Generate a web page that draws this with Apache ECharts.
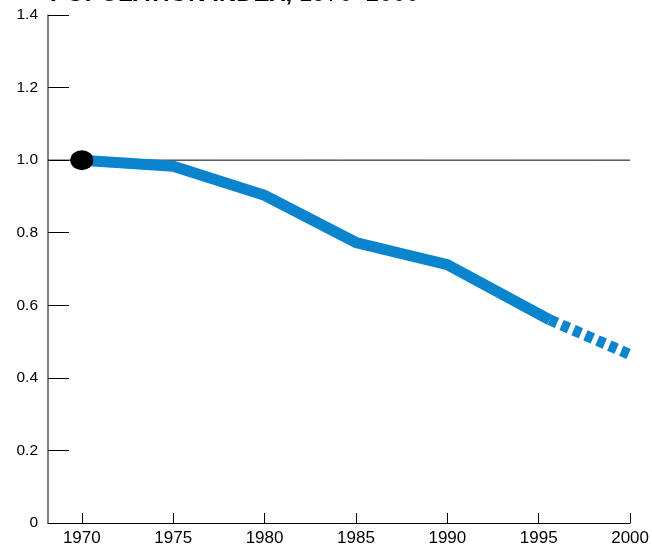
<!DOCTYPE html>
<html><head><meta charset="utf-8">
<script src="https://cdn.jsdelivr.net/npm/echarts@6/dist/echarts.min.js"></script>
<style>html,body{margin:0;padding:0;background:#fff}#c{width:652px;height:547px}</style>
</head><body><div id="c"></div>
<script>
const titleBold = 'POPULATION INDEX,';
const titleRest = ' 1970–2000';
const xTicks = [1970, 1975, 1980, 1985, 1990, 1995, 2000];
const yTicks = [0, 0.2, 0.4, 0.6, 0.8, 1.0, 1.2, 1.4];
const solidYears = [1970, 1975, 1980, 1985, 1990, 1995.6];
const solidValues = [1.0, 0.983, 0.903, 0.773, 0.712, 0.56];
const dashedYears = [1995.6, 2000];
const dashedValues = [0.56, 0.464];
const startYear = 1970, startValue = 1.0;
const refValue = 1.0;

const chart = echarts.init(document.getElementById('c'));
const font = 'Liberation Sans, Arial, Helvetica, sans-serif';
chart.setOption({
  animation: false,
  graphic: [{
    type: 'text', left: 50, top: -17.5,
    style: {
      text: '{b|' + titleBold + '}{r|' + titleRest + '}',
      rich: {
        b: { fontFamily: font, fontWeight: 'bold', fontSize: 24, fill: '#000' },
        r: { fontFamily: font, fontSize: 24, fill: '#000' }
      }
    }
  }],
  grid: { left: 48, right: 19, top: 15, bottom: 24, containLabel: false },
  xAxis: {
    type: 'value', min: 1968.15, max: 2000,
    splitLine: { show: false },
    axisLine: { lineStyle: { color: '#000', width: 1 } },
    axisTick: { inside: true, length: 10, customValues: xTicks, lineStyle: { color: '#000' } },
    axisLabel: { customValues: xTicks, color: '#000', fontFamily: font, fontSize: 17, margin: 7, formatter: v => String(v) }
  },
  yAxis: {
    type: 'value', min: 0, max: 1.4,
    splitLine: { show: false },
    axisLine: { show: true, lineStyle: { color: '#555', width: 1.5 } },
    axisTick: { inside: true, length: 21, customValues: yTicks, lineStyle: { color: '#000' } },
    axisLabel: { customValues: yTicks, color: '#000', fontFamily: font, fontSize: 15.5, margin: 10,
      formatter: v => v === 0 ? '0' : v.toFixed(1) }
  },
  series: [
    {
      type: 'line', data: [[1968.15, refValue], [2000, refValue]], symbol: 'none', silent: true,
      lineStyle: { color: '#000', width: 1 }, z: 1
    },
    {
      type: 'line', data: solidYears.map((y, i) => [y, solidValues[i]]), symbol: 'none',
      lineStyle: { color: '#0A84CC', width: 11, cap: 'butt', join: 'miter' }, z: 2
    },
    {
      type: 'line', data: dashedYears.map((y, i) => [y, dashedValues[i]]), symbol: 'none',
      lineStyle: { color: '#0A84CC', width: 11, type: [8, 5], cap: 'butt' }, z: 2
    },
    {
      type: 'scatter', data: [[startYear, startValue]], symbol: 'circle', symbolSize: [23, 20],
      itemStyle: { color: '#000', opacity: 1 }, z: 3
    }
  ]
});
</script></body></html>
